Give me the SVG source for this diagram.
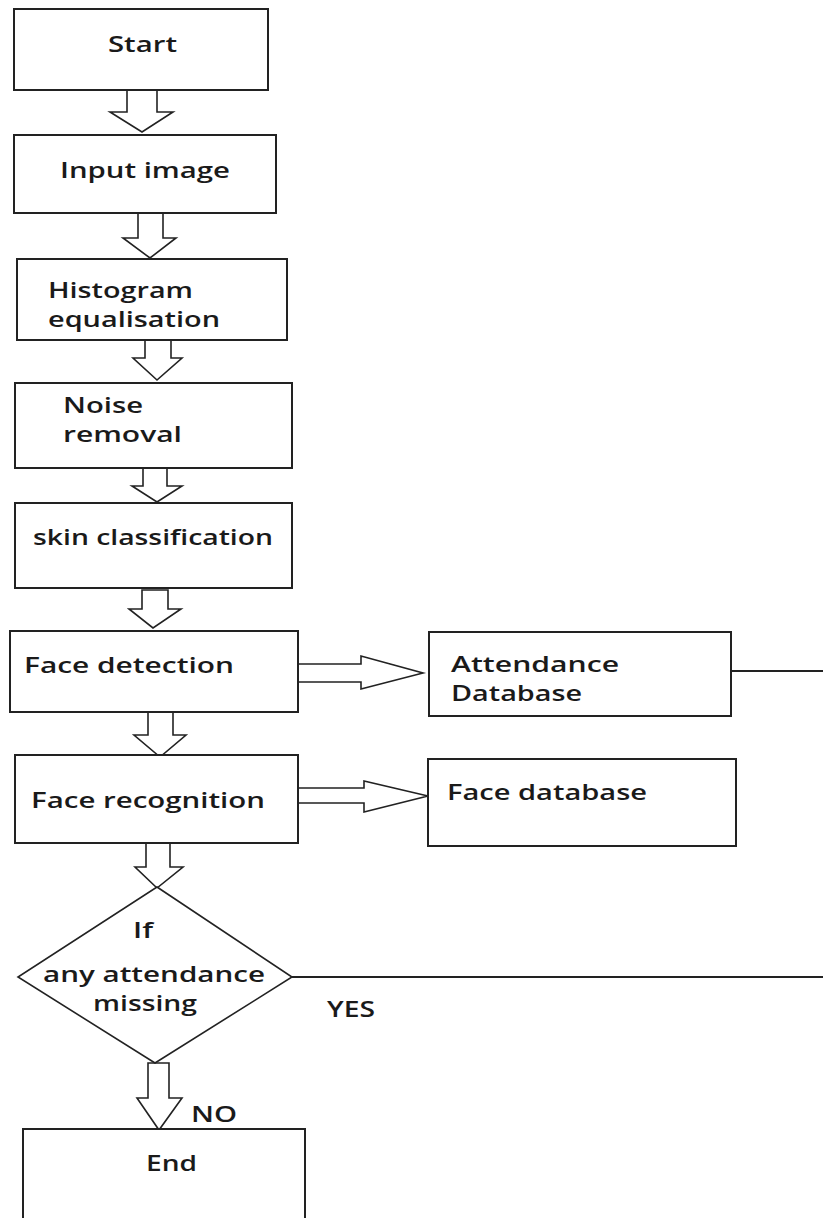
<svg xmlns="http://www.w3.org/2000/svg" width="823" height="1218" viewBox="0 0 823 1218">
<style>
.box{fill:#fff;stroke:#222;stroke-width:2}
.arr{fill:#fff;stroke:#222;stroke-width:1.6;stroke-linejoin:miter}
.ln{fill:none;stroke:#222;stroke-width:1.8}
text{font-family:"Open Sans","Liberation Sans",sans-serif;font-weight:600;font-size:22px;fill:#1a1a1a}
</style>
<rect width="823" height="1218" fill="#fff"/>
<g id="connectors">
<polygon class="arr" points="127,90 157,90 157,112 173,112 142,132 110,112 127,112"/>
<polygon class="arr" points="138,213 163,213 163,238 176,238 150,258 123,238 138,238"/>
<polygon class="arr" points="145,340 171,340 171,358 182,358 157,380 133,358 145,358"/>
<polygon class="arr" points="143,468 167,468 167,486 182,486 157,502 132,486 143,486"/>
<polygon class="arr" points="142,590 168,590 168,609 181,609 153,628 129,609 142,609"/>
<polygon class="arr" points="148,712 173,712 173,735 186,735 160,757 134,735 148,735"/>
<polygon class="arr" points="298,664 361,664 361,656 423,673 361,689 361,682 298,682"/>
<polygon class="arr" points="298,788 364,788 364,781 428,796 364,812 364,803 298,803"/>
<polygon class="arr" points="146,843 170,843 170,867 183,867 157,888 135,867 146,867"/>
<polygon class="arr" points="148,1063 169,1063 169,1098 182,1098 159,1130 137,1098 148,1098"/>
<line class="ln" x1="729" y1="671" x2="823" y2="671"/>
<line class="ln" x1="292" y1="977" x2="823" y2="977"/>
</g>
<g id="start"><rect class="box" x="14" y="9" width="254" height="81"/><text x="108" y="52" textLength="69" lengthAdjust="spacingAndGlyphs">Start</text></g>
<g id="input"><rect class="box" x="14" y="135" width="262" height="78"/><text x="60" y="178" textLength="170" lengthAdjust="spacingAndGlyphs">Input image</text></g>
<g id="histogram"><rect class="box" x="17" y="259" width="270" height="81"/><text x="48" y="298" textLength="145" lengthAdjust="spacingAndGlyphs">Histogram</text><text x="48" y="327" textLength="172" lengthAdjust="spacingAndGlyphs">equalisation</text></g>
<g id="noise"><rect class="box" x="15" y="383" width="277" height="85"/><text x="63" y="413" textLength="80" lengthAdjust="spacingAndGlyphs">Noise</text><text x="63" y="442" textLength="119" lengthAdjust="spacingAndGlyphs">removal</text></g>
<g id="skin"><rect class="box" x="15" y="503" width="277" height="85"/><text x="33" y="545" textLength="240" lengthAdjust="spacingAndGlyphs">skin classification</text></g>
<g id="facedetection"><rect class="box" x="10" y="631" width="288" height="81"/><text x="24" y="673" textLength="210" lengthAdjust="spacingAndGlyphs">Face detection</text></g>
<g id="attendancedb"><rect class="box" x="429" y="632" width="302" height="84"/><text x="451" y="672" textLength="168" lengthAdjust="spacingAndGlyphs">Attendance</text><text x="451" y="701" textLength="131" lengthAdjust="spacingAndGlyphs">Database</text></g>
<g id="facerecognition"><rect class="box" x="15" y="755" width="283" height="88"/><text x="31" y="808" textLength="234" lengthAdjust="spacingAndGlyphs">Face recognition</text></g>
<g id="facedb"><rect class="box" x="428" y="759" width="308" height="87"/><text x="447" y="800" textLength="200" lengthAdjust="spacingAndGlyphs">Face database</text></g>
<g id="decision"><polygon class="box" points="157,887 292,977 155,1063 18,977" style="stroke-width:1.6"/><text x="133" y="938" textLength="20" lengthAdjust="spacingAndGlyphs">If</text><text x="43" y="982" textLength="222" lengthAdjust="spacingAndGlyphs">any attendance</text><text x="93" y="1011" textLength="104" lengthAdjust="spacingAndGlyphs">missing</text></g>
<g id="labels"><text x="327" y="1017" textLength="48" lengthAdjust="spacingAndGlyphs">YES</text><text x="191" y="1122" textLength="46" lengthAdjust="spacingAndGlyphs">NO</text></g>
<g id="end"><path class="box" d="M23,1219 V1129 H305 V1219"/><text x="146" y="1171" textLength="51" lengthAdjust="spacingAndGlyphs">End</text></g>
</svg>
